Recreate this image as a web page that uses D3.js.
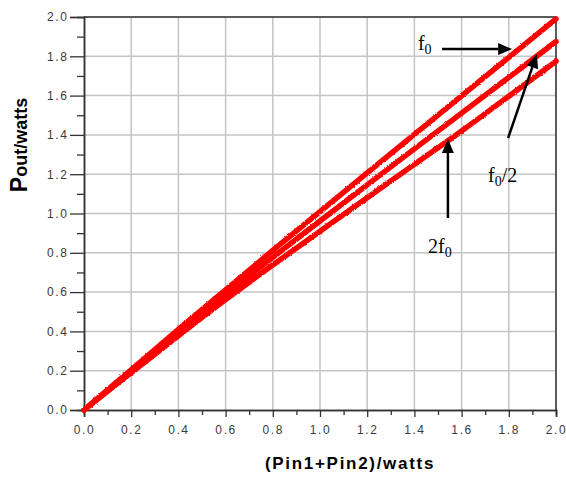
<!DOCTYPE html>
<html>
<head>
<meta charset="utf-8">
<script src="https://cdn.jsdelivr.net/npm/d3@7"></script>
<style>
  html, body { margin: 0; padding: 0; background: #fff; }
  svg { display: block; }
</style>
</head>
<body>
<svg id="chart" width="566" height="477"></svg>
<script>
// ---- data ----
const xValues   = [0, 0.2, 0.4, 0.6, 0.8, 1.0, 1.2, 1.4, 1.6, 1.8, 2.0];
const f0Values  = [0, 0.205, 0.41, 0.612, 0.812, 1.01, 1.207, 1.403, 1.599, 1.795, 1.99];
const fHalfVals = [0, 0.198, 0.394, 0.587, 0.777, 0.962, 1.146, 1.329, 1.511, 1.693, 1.875];
const f2Values  = [0, 0.19, 0.378, 0.562, 0.738, 0.91, 1.08, 1.25, 1.42, 1.597, 1.775];
const seriesNames = ["f0", "f0/2", "2f0"];
const majorTicks = [0, 0.2, 0.4, 0.6, 0.8, 1.0, 1.2, 1.4, 1.6, 1.8, 2.0];
const minorTicks = [0.1, 0.3, 0.5, 0.7, 0.9, 1.1, 1.3, 1.5, 1.7, 1.9];
// annotations (data units): label parts, text anchor, arrow start/end
const annoLabels = [["f", "0", ""], ["f", "0", "/2"], ["2f", "0", ""]];
const annoText   = [[1.415, 1.832], [1.712, 1.160], [1.458, 0.799]];
const annoFrom   = [[1.517, 1.837], [1.797, 1.384], [1.542, 0.977]];
const annoTo     = [[1.814, 1.837], [1.919, 1.812], [1.542, 1.379]];

// ---- layout ----
const svg = d3.select("#chart");
const L = 84, R = 556, T = 17, B = 410;
const x = d3.scaleLinear().domain([0, 2]).range([L, R]);
const y = d3.scaleLinear().domain([0, 2]).range([B, T]);

const defs = svg.append("defs");
const flt = defs.append("filter").attr("id", "rough")
  .attr("x", "-5%").attr("y", "-5%").attr("width", "110%").attr("height", "110%");
flt.append("feTurbulence").attr("type", "fractalNoise").attr("baseFrequency", 0.9)
  .attr("numOctaves", 1).attr("seed", 3).attr("result", "n");
flt.append("feDisplacementMap").attr("in", "SourceGraphic").attr("in2", "n")
  .attr("scale", 2.5).attr("xChannelSelector", "R").attr("yChannelSelector", "G");

// grid
const grid = svg.append("g");
grid.selectAll("line.v").data(majorTicks.slice(1)).join("line")
  .attr("x1", d => x(d)).attr("x2", d => x(d)).attr("y1", T).attr("y2", B)
  .attr("stroke", "#c4c4c4").attr("stroke-width", 1.5);
grid.selectAll("line.h").data(majorTicks.slice(1)).join("line")
  .attr("y1", d => y(d)).attr("y2", d => y(d)).attr("x1", L).attr("x2", R)
  .attr("stroke", "#c4c4c4").attr("stroke-width", 1.5);

// frame top/right
svg.append("line").attr("x1", L).attr("x2", R).attr("y1", T).attr("y2", T)
  .attr("stroke", "#333").attr("stroke-width", 1.5);
svg.append("line").attr("x1", R).attr("x2", R).attr("y1", T).attr("y2", B)
  .attr("stroke", "#333").attr("stroke-width", 1.5);

// axes
const fmt = d3.format(".1f");
const xAxis = svg.append("g").attr("transform", `translate(0,${B})`)
  .call(d3.axisBottom(x).tickValues(majorTicks).tickFormat(fmt).tickSize(7).tickPadding(8));
const xMinor = svg.append("g").attr("transform", `translate(0,${B})`)
  .call(d3.axisBottom(x).tickValues(minorTicks).tickFormat("").tickSize(5));
const yAxis = svg.append("g").attr("transform", `translate(${L},0)`)
  .call(d3.axisLeft(y).tickValues(majorTicks).tickFormat(fmt).tickSize(14).tickPadding(1.5));
const yMinor = svg.append("g").attr("transform", `translate(${L},0)`)
  .call(d3.axisLeft(y).tickValues(minorTicks).tickFormat("").tickSize(7));
[xAxis, xMinor, yAxis, yMinor].forEach(g => {
  g.select(".domain").attr("stroke", "#333").attr("stroke-width", 1.5);
  g.selectAll(".tick line").attr("stroke", "#333").attr("stroke-width", 1.3);
  g.selectAll(".tick text").attr("fill", "#3a3a3a")
    .style("font-family", "'Liberation Sans', Arial, sans-serif").style("font-size", "12px")
    .style("letter-spacing", "1.6px");
});

// series
const series = [f0Values, fHalfVals, f2Values].map((vals, i) => ({
  name: seriesNames[i], pts: xValues.map((xv, j) => [xv, vals[j]])
}));
const line = d3.line().x(d => x(d[0])).y(d => y(d[1])).curve(d3.curveMonotoneX);
svg.append("g").attr("filter", "url(#rough)")
  .selectAll("path").data(series).join("path")
  .attr("d", d => line(d.pts))
  .attr("fill", "none").attr("stroke", "#ff0000").attr("stroke-width", 5.5)
  .attr("stroke-linecap", "round").attr("stroke-linejoin", "round");

// annotations
const ag = svg.append("g");
annoLabels.forEach((parts, i) => {
  const t = ag.append("text")
    .attr("x", x(annoText[i][0])).attr("y", y(annoText[i][1]))
    .style("font-family", "'Liberation Serif', 'Times New Roman', serif")
    .style("font-size", "20px").attr("fill", "#000");
  t.append("tspan").text(parts[0]);
  t.append("tspan").text(parts[1]).style("font-size", "14px").attr("dy", 4);
  if (parts[2]) t.append("tspan").text(parts[2]).attr("dy", -4);

  const x1 = x(annoFrom[i][0]), y1 = y(annoFrom[i][1]);
  const x2 = x(annoTo[i][0]), y2 = y(annoTo[i][1]);
  const ang = Math.atan2(y2 - y1, x2 - x1);
  const hl = 14, hw = 6;
  const bx = x2 - hl * Math.cos(ang), by = y2 - hl * Math.sin(ang);
  ag.append("line").attr("x1", x1).attr("y1", y1).attr("x2", bx).attr("y2", by)
    .attr("stroke", "#000").attr("stroke-width", 2.5);
  const px = -Math.sin(ang), py = Math.cos(ang);
  ag.append("path")
    .attr("d", `M${x2},${y2}L${bx + hw * px},${by + hw * py}L${bx - hw * px},${by - hw * py}Z`)
    .attr("fill", "#000");
});

// axis titles
svg.append("text")
  .attr("x", 350).attr("y", 469)
  .attr("text-anchor", "middle")
  .style("font-family", "'Liberation Sans', Arial, sans-serif")
  .style("font-size", "17px").style("font-weight", "bold").style("letter-spacing", "1.7px")
  .attr("fill", "#000")
  .text("(Pin1+Pin2)/watts");

const yt = svg.append("text")
  .attr("transform", "translate(27,145) rotate(-90)")
  .attr("text-anchor", "middle")
  .style("font-family", "'Liberation Sans', Arial, sans-serif")
  .style("font-weight", "bold").attr("fill", "#000");
yt.append("tspan").text("P").style("font-size", "23px");
yt.append("tspan").text("out/watts").style("font-size", "18px");
</script>
</body>
</html>
